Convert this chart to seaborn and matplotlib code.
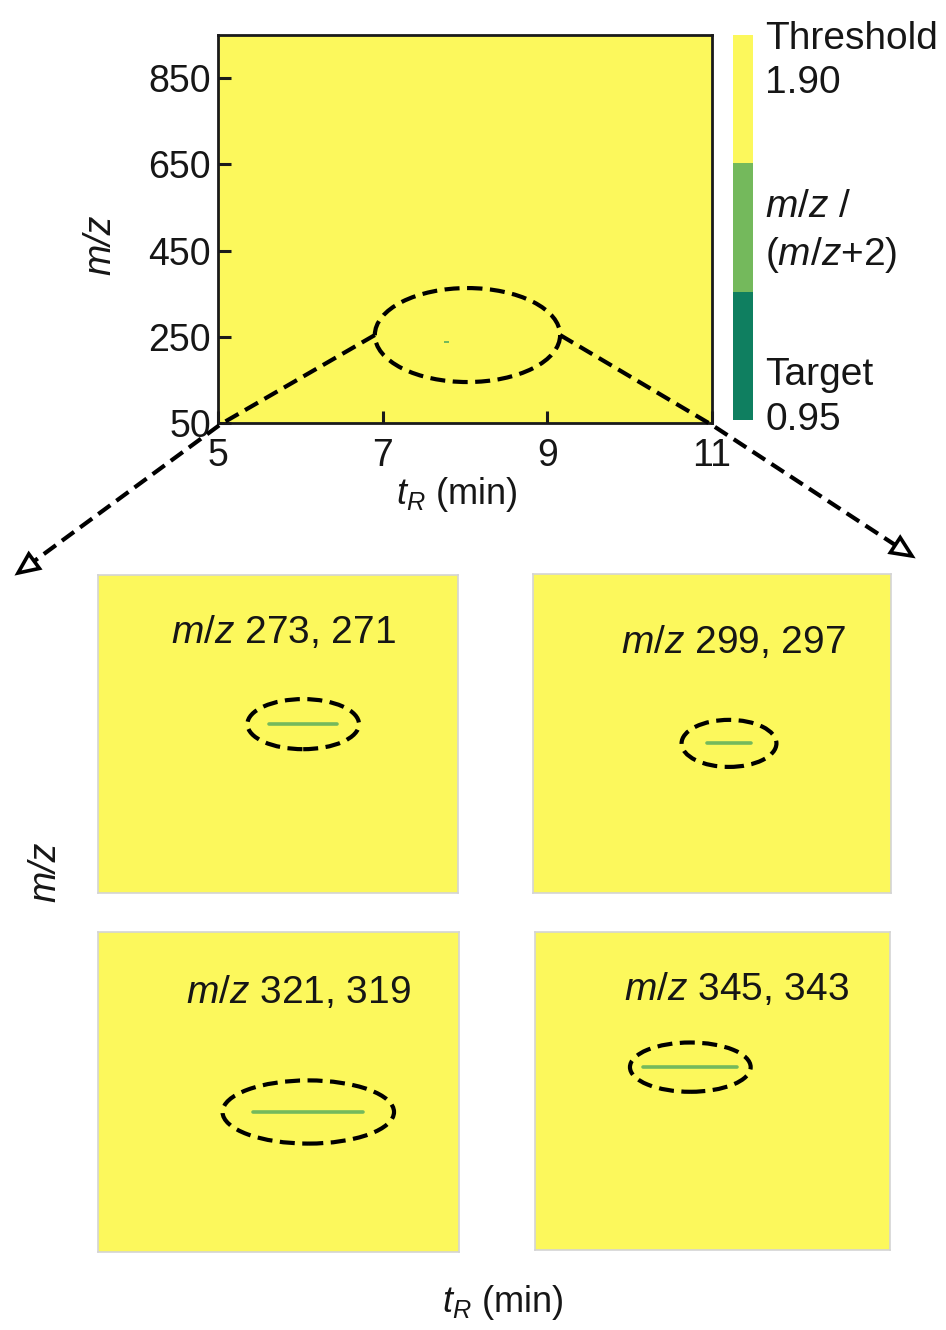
import numpy as np
import pandas as pd
import matplotlib
matplotlib.use("Agg")
import matplotlib.pyplot as plt
import seaborn as sns
from matplotlib.colors import ListedColormap
from matplotlib.patches import Ellipse, Polygon
from matplotlib.lines import Line2D

# ---------------- data ----------------
tr_ticks = [5, 7, 9, 11]                 # retention time ticks (min)
mz_ticks = [50, 250, 450, 650, 850]      # m/z ticks
tr_min, tr_max, tr_step = 5.0, 11.0, 0.05
mz_min, mz_max, mz_step = 50, 950, 5
background_ratio = 2.0                   # above threshold everywhere else
threshold_value = 1.90
target_value = 0.95

# isotope-ratio hits seen in the overview map
hit_tr = [7.78]
hit_mz = [236]
hit_ratio = [1.45]

# zoomed isotope pairs
pair_heavy = [273, 299, 321, 345]
pair_light = [271, 297, 319, 343]
pair_tr_start = [7.95, 7.97, 7.86, 7.61]
pair_tr_end = [8.33, 8.22, 8.47, 8.14]

# ---------------- style ----------------
YELLOW = "#FCF85C"
LIGHT_GREEN = "#74B95C"
DARK_GREEN = "#0F7F60"
TXT = "#161616"

sns.set_theme(style="white")
plt.rcParams['font.family'] = ['Liberation Sans', 'DejaVu Sans']
plt.rcParams['mathtext.fontset'] = 'custom'
plt.rcParams['mathtext.rm'] = 'Liberation Sans'
plt.rcParams['mathtext.it'] = 'Liberation Sans:italic'

W, H = 946, 1330
fig = plt.figure(figsize=(W / 100, H / 100), dpi=100)


def fpos(x0, y0, x1, y1):
    return [x0 / W, 1 - y1 / H, (x1 - x0) / W, (y1 - y0) / H]


def fpt(x, y):
    return (x / W, 1 - y / H)


ax = fig.add_axes(fpos(218, 35, 712, 423))
cax = fig.add_axes(fpos(733, 35, 753, 420))

# build overview grid
tr_edges = np.round(np.arange(tr_min, tr_max, tr_step), 4)
mz_edges = np.arange(mz_max - mz_step, mz_min - 1, -mz_step)
grid = np.full((len(mz_edges), len(tr_edges)), background_ratio)
for t, m, r in zip(hit_tr, hit_mz, hit_ratio):
    ci = int((t - tr_min) / tr_step)
    ri = int((mz_max - m) / mz_step)
    grid[ri, ci] = r
df = pd.DataFrame(grid, index=mz_edges, columns=tr_edges)

cmap = ListedColormap([DARK_GREEN, LIGHT_GREEN, YELLOW])
sns.heatmap(df, ax=ax, cmap=cmap, vmin=target_value, vmax=threshold_value,
            cbar_ax=cax, xticklabels=False, yticklabels=False)


def col(t):
    return (t - tr_min) / tr_step


def row(m):
    return (mz_max - m) / mz_step


ax.set_axisbelow(False)
ax.set_xticks([col(t) for t in tr_ticks])
ax.set_xticklabels([str(t) for t in tr_ticks])
ax.set_yticks([row(m) for m in mz_ticks])
ax.set_yticklabels([str(m) for m in mz_ticks], rotation=0)
ax.tick_params(axis='both', direction='in', length=9, width=2.2, color='#1a1a1a',
               labelsize=27, labelcolor=TXT, bottom=True, left=True)
ax.tick_params(axis='x', pad=11)
ax.tick_params(axis='y', pad=5)
ax.set_xlabel("")
ax.set_ylabel("")
for s in ax.spines.values():
    s.set_visible(True)
    s.set_color('#1a1a1a')
    s.set_linewidth(2)
    s.set_zorder(10)

# colorbar
cbar = ax.collections[0].colorbar
cbar.outline.set_visible(False)
cbar.set_ticks([])
cb_txt = [("Threshold", 0.99), ("1.90", 0.875),
          ("$m/z$ $/$", 0.553), ("($m/z$+2)", 0.429),
          ("Target", 0.117), ("0.95", 0.0)]
for s, y in cb_txt:
    cax.text(1.6, y, s, transform=cax.transAxes, fontsize=28, color=TXT,
             ha='left', va='center')

# dashed ellipse on overview
DASH = (0, (3.6, 1.8))
LW = 3.0
e_tr, e_mz, e_w, e_h = 8.03, 254, 2.25, 218
ax.add_patch(Ellipse((col(e_tr), row(e_mz)), e_w / tr_step, e_h / mz_step,
                     fill=False, ec='black', lw=LW, ls=DASH, zorder=5))

# axis labels
fig.text(*fpt(100, 245), "m/z", rotation=90, style='italic', fontsize=27,
         ha='center', va='center', color=TXT)
fig.text(*fpt(457, 494), "$t_R$ (min)", fontsize=26, ha='center',
         va='center', color=TXT)
fig.text(*fpt(45, 872), "m/z", rotation=90, style='italic', fontsize=27,
         ha='center', va='center', color=TXT)
fig.text(*fpt(503, 1303), "$t_R$ (min)", fontsize=26, ha='center',
         va='center', color=TXT)

# connectors from overview ellipse to the zoomed panels
fig.canvas.draw()
to_fig = fig.transFigure.inverted()
pL = to_fig.transform(ax.transData.transform((col(e_tr - e_w / 2), row(e_mz))))
pR = to_fig.transform(ax.transData.transform((col(e_tr + e_w / 2), row(e_mz))))
cL = fpt(221, 424)
cR = fpt(712, 425)
tipL = fpt(18, 573)
tipR = fpt(912, 556)


def arrow(p0, pc, tip):
    # dashed segment(s) and an open triangular head, in pixel space
    x0, y0 = tip[0] * W, tip[1] * H
    xc, yc = pc[0] * W, pc[1] * H
    d = np.array([x0 - xc, y0 - yc])
    d /= np.linalg.norm(d)
    n = np.array([-d[1], d[0]])
    L, hw = 20, 9
    base = np.array([x0, y0]) - d * L
    tri = [(x0, y0), tuple(base + n * hw), tuple(base - n * hw)]
    tri_f = [(x / W, y / H) for x, y in tri]
    fig.add_artist(Line2D([p0[0], pc[0], base[0] / W], [p0[1], pc[1], base[1] / H],
                          transform=fig.transFigure, color='black', lw=LW,
                          ls=DASH, zorder=6))
    fig.add_artist(Polygon(tri_f, closed=True, transform=fig.transFigure,
                           fc='white', ec='black', lw=2.6, zorder=7))


arrow(pL, cL, tipL)
arrow(pR, cR, tipR)

# zoomed panels
panel_px = [(98, 575, 458, 893), (533, 574, 891, 893),
            (98, 932, 459, 1252), (535, 932, 890, 1250)]
win_tr = (7.0, 9.0)
win_span = 40
frac_top = [0.469, 0.531, 0.5625, 0.425]
ell_w = [0.62, 0.53, 0.95, 0.68]
ell_h = [6.3, 5.9, 7.9, 6.2]
txt_xy = [(0.514, 0.818), (0.561, 0.784), (0.554, 0.81), (0.569, 0.818)]

for i in range(4):
    a = fig.add_axes(fpos(*panel_px[i]))
    a.set_facecolor(YELLOW)
    mz = pair_heavy[i]
    line_df = pd.DataFrame({"tR": [pair_tr_start[i], pair_tr_end[i]],
                            "mz": [mz, mz]})
    sns.lineplot(data=line_df, x="tR", y="mz", ax=a, color=LIGHT_GREEN, lw=2.6)
    a.set_xlim(*win_tr)
    a.set_ylim(mz - (1 - frac_top[i]) * win_span, mz + frac_top[i] * win_span)
    mid = (pair_tr_start[i] + pair_tr_end[i]) / 2
    a.add_patch(Ellipse((mid, mz), ell_w[i], ell_h[i], fill=False, ec='black',
                        lw=LW, ls=DASH, zorder=5))
    a.set_xticks([])
    a.set_yticks([])
    a.set_xlabel("")
    a.set_ylabel("")
    for s in a.spines.values():
        s.set_visible(True)
        s.set_color('#d4d4d4')
        s.set_linewidth(1.2)
    a.text(*txt_xy[i], f"$m/z$ {pair_heavy[i]}, {pair_light[i]}",
           transform=a.transAxes, fontsize=28, ha='center', va='center',
           color=TXT)

fig.savefig("out.png", dpi=100, facecolor='white')
